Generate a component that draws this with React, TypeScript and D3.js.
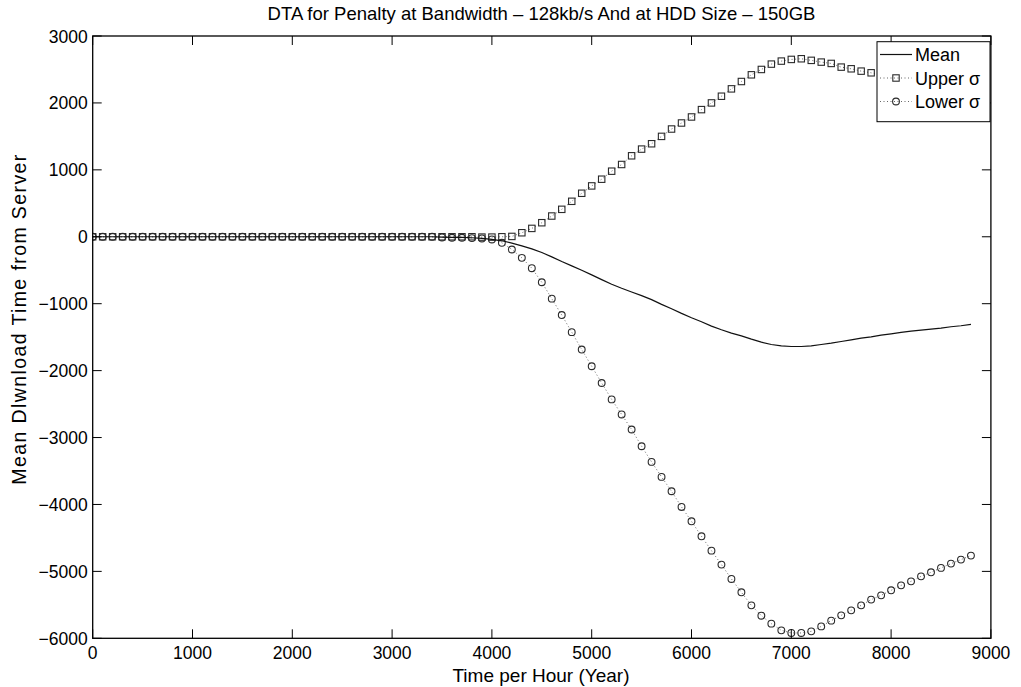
import React from "react";
import * as d3 from "d3";

// Hours (x) sampled every 100 h, 0 .. 8800
const hours: number[] = [
  0, 100, 200, 300, 400, 500, 600, 700, 800, 900,
  1000, 1100, 1200, 1300, 1400, 1500, 1600, 1700, 1800, 1900,
  2000, 2100, 2200, 2300, 2400, 2500, 2600, 2700, 2800, 2900,
  3000, 3100, 3200, 3300, 3400, 3500, 3600, 3700, 3800, 3900,
  4000, 4100, 4200, 4300, 4400, 4500, 4600, 4700, 4800, 4900,
  5000, 5100, 5200, 5300, 5400, 5500, 5600, 5700, 5800, 5900,
  6000, 6100, 6200, 6300, 6400, 6500, 6600, 6700, 6800, 6900,
  7000, 7100, 7200, 7300, 7400, 7500, 7600, 7700, 7800, 7900,
  8000, 8100, 8200, 8300, 8400, 8500, 8600, 8700, 8800,
];

const meanValues: number[] = [
  0, 0, 0, 0, 0, 0, 0, 0, 0, 0,
  0, 0, 0, 0, 0, 0, 0, 0, 0, 0,
  0, 0, 0, 0, 0, 0, 0, 0, 0, 0,
  0, 0, 0, 0, 0, -5, -8, -10, -15, -25,
  -40, -60, -95, -135, -180, -235, -300, -370, -435, -500,
  -570, -640, -710, -770, -825, -880, -940, -1010, -1075, -1145,
  -1210, -1270, -1335, -1390, -1440, -1480, -1530, -1575, -1610, -1630,
  -1640, -1640, -1630, -1610, -1590, -1565, -1540, -1515, -1495, -1470,
  -1450, -1430, -1410, -1395, -1380, -1365, -1345, -1330, -1310,
];

const upperValues: number[] = [
  0, 0, 0, 0, 0, 0, 0, 0, 0, 0,
  0, 0, 0, 0, 0, 0, 0, 0, 0, 0,
  0, 0, 0, 0, 0, 0, 0, 0, 0, 0,
  0, 0, 0, 0, 0, 0, 0, 0, 0, -5,
  -5, 0, 5, 60, 125, 210, 310, 410, 530, 650,
  760, 860, 980, 1080, 1210, 1310, 1390, 1500, 1610, 1700,
  1790, 1900, 2000, 2100, 2210, 2320, 2420, 2500, 2580, 2625,
  2650, 2660, 2636, 2610, 2590, 2535, 2510, 2475, 2450, 2418,
  2383, 2349, 2329, 2284, 2254, 2218, 2194, 2164, 2144,
];

const lowerValues: number[] = [
  0, 0, 0, 0, 0, 0, 0, 0, 0, 0,
  0, 0, 0, 0, 0, 0, 0, 0, 0, 0,
  0, 0, 0, 0, 0, 0, 0, 0, 0, 0,
  0, 0, 0, 0, 0, -10, -15, -15, -20, -25,
  -40, -90, -190, -315, -470, -680, -925, -1170, -1425, -1685,
  -1935, -2185, -2430, -2655, -2880, -3130, -3364, -3588, -3803, -4037,
  -4252, -4476, -4690, -4899, -5113, -5313, -5508, -5662, -5781, -5881,
  -5920, -5920, -5896, -5822, -5736, -5657, -5582, -5508, -5422, -5358,
  -5283, -5209, -5149, -5074, -5014, -4948, -4884, -4824, -4764,
];

const xTicks: number[] = [0, 1000, 2000, 3000, 4000, 5000, 6000, 7000, 8000, 9000];
const yTicks: number[] = [-6000, -5000, -4000, -3000, -2000, -1000, 0, 1000, 2000, 3000];

const titleText = "DTA for Penalty at Bandwidth \u2013 128kb/s And at HDD Size \u2013 150GB";
const xLabelText = "Time per Hour (Year)";
const yLabelText = "Mean Dlwnload Time from Server";
const legendLabels: string[] = ["Mean", "Upper \u03c3", "Lower \u03c3"];

const W = 1021;
const H = 687;
const L = 92.7;
const R = 990.9;
const T = 36;
const B = 638.3;
const FONT = "'Liberation Sans', Arial, Helvetica, sans-serif";
const fmt = (v: number) => (v < 0 ? "\u2212" + Math.abs(v) : String(v));

export default function App() {
  const x = d3.scaleLinear().domain([0, 9000]).range([L, R]);
  const y = d3.scaleLinear().domain([-6000, 3000]).range([B, T]);

  const mk = (vals: number[]) =>
    d3
      .line<number>()
      .x((_, i) => x(hours[i]))
      .y((v) => y(v))(vals) || "";

  const meanPath = mk(meanValues);
  const upperPath = mk(upperValues);
  const lowerPath = mk(lowerValues);
  const tickLen = 9;
  const markerStroke = "#2a2a2a";
  const dotLine = "#666";

  const legX = 877;
  const legY = 41.7;
  const legW = 113;
  const legH = 80;
  const rowY = [54.5, 78, 101.5];

  return (
    <svg width={W} height={H} style={{ position: "absolute", left: 0, top: 0, background: "#fff" }}>
      <rect x={0} y={0} width={W} height={H} fill="#fff" />
      <defs>
        <clipPath id="plotclip">
          <rect x={L} y={T} width={R - L} height={B - T} />
        </clipPath>
      </defs>
      {/* title */}
      <text x={541.5} y={19.5} textAnchor="middle" fontFamily={FONT} fontSize={18.5} fill="#000">
        {titleText}
      </text>

      {/* series */}
      <g clipPath="url(#plotclip)">
        <path d={upperPath} fill="none" stroke={dotLine} strokeWidth={1} strokeDasharray="1,2.5" />
        <path d={lowerPath} fill="none" stroke={dotLine} strokeWidth={1} strokeDasharray="1,2.5" />
        {upperValues.map((v, i) => (
          <rect
            key={"u" + i}
            x={x(hours[i]) - 3.2}
            y={y(v) - 3.2}
            width={6.4}
            height={6.4}
            fill="none"
            stroke={markerStroke}
            strokeWidth={1.1}
          />
        ))}
        {lowerValues.map((v, i) => (
          <circle key={"l" + i} cx={x(hours[i])} cy={y(v)} r={3.4} fill="none" stroke={markerStroke} strokeWidth={1.1} />
        ))}
        <path d={meanPath} fill="none" stroke="#111" strokeWidth={1.2} />
      </g>

      {/* axes box */}
      <rect x={L} y={T} width={R - L} height={B - T} fill="none" stroke="#000" strokeWidth={1.3} />
      {xTicks.map((t) => (
        <g key={"xt" + t}>
          <line x1={x(t)} x2={x(t)} y1={B} y2={B - tickLen} stroke="#000" strokeWidth={1} />
          <line x1={x(t)} x2={x(t)} y1={T} y2={T + tickLen} stroke="#000" strokeWidth={1} />
          <text x={x(t)} y={B + 21} textAnchor="middle" fontFamily={FONT} fontSize={17.5} fill="#000">
            {fmt(t)}
          </text>
        </g>
      ))}
      {yTicks.map((t) => (
        <g key={"yt" + t}>
          <line x1={L} x2={L + tickLen} y1={y(t)} y2={y(t)} stroke="#000" strokeWidth={1} />
          <line x1={R} x2={R - tickLen} y1={y(t)} y2={y(t)} stroke="#000" strokeWidth={1} />
          <text x={L - 5} y={y(t) + 6.5} textAnchor="end" fontFamily={FONT} fontSize={17.5} fill="#000">
            {fmt(t)}
          </text>
        </g>
      ))}

      {/* axis labels */}
      <text x={541} y={682} textAnchor="middle" fontFamily={FONT} fontSize={19} fill="#000">
        {xLabelText}
      </text>
      <text
        transform={`translate(26,319) rotate(-90)`}
        textAnchor="middle"
        fontFamily={FONT}
        fontSize={19.5}
        letterSpacing={1.4}
        fill="#000"
      >
        {yLabelText}
      </text>

      {/* legend */}
      <rect x={legX} y={legY} width={legW} height={legH} fill="#fff" stroke="#000" strokeWidth={1} />
      <line x1={880} x2={912} y1={rowY[0]} y2={rowY[0]} stroke="#111" strokeWidth={1.2} />
      <line x1={880} x2={912} y1={rowY[1]} y2={rowY[1]} stroke={dotLine} strokeWidth={1} strokeDasharray="1,2.5" />
      <rect x={896 - 3.2} y={rowY[1] - 3.2} width={6.4} height={6.4} fill="none" stroke={markerStroke} strokeWidth={1.1} />
      <line x1={880} x2={912} y1={rowY[2]} y2={rowY[2]} stroke={dotLine} strokeWidth={1} strokeDasharray="1,2.5" />
      <circle cx={896} cy={rowY[2]} r={3.4} fill="none" stroke={markerStroke} strokeWidth={1.1} />
      {legendLabels.map((s, i) => (
        <text key={s} x={915} y={rowY[i] + 6.5} fontFamily={FONT} fontSize={18} fill="#000">
          {s}
        </text>
      ))}
    </svg>
  );
}
